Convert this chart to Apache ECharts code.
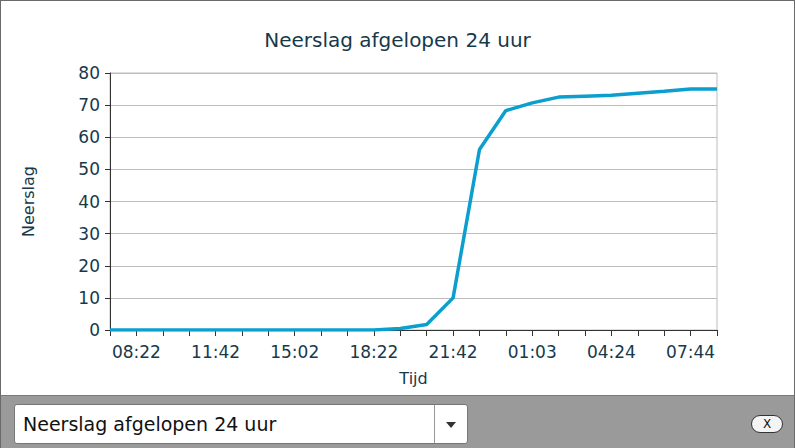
<!DOCTYPE html>
<html><head><meta charset="utf-8">
<script src="https://cdn.jsdelivr.net/npm/echarts@6/dist/echarts.min.js"></script>
<style>
body{margin:0;width:795px;height:448px;overflow:hidden;font-family:"DejaVu Sans",Verdana,sans-serif;}
#wrap{position:absolute;left:0;top:0;width:793px;height:446px;border:1px solid #6a6a6a;background:#fff;}
#chart{position:absolute;left:0;top:0;width:793px;height:394px;}
#bar{position:absolute;left:0;top:394px;width:793px;height:52px;background:#9a9a9a;border-top:1px solid #7a7a7a;}
#sel{position:absolute;left:13px;top:8px;width:452px;height:38px;background:#fff;border:1px solid #777;border-radius:3px;font-size:19px;line-height:38px;color:#111;}
#sel span{position:absolute;left:8px;}
#arrow{position:absolute;right:0;top:0;width:32px;height:38px;border-left:1px solid #999;}
#arrow:after{content:"";position:absolute;left:11px;top:17px;border-left:5px solid transparent;border-right:5px solid transparent;border-top:6px solid #333;}
#x{position:absolute;left:750px;top:19px;width:30px;height:16px;border:1px solid #333;border-radius:9px;background:#f4f4f4;font-size:12px;line-height:16px;text-align:center;color:#111;}
</style></head>
<body>
<div id="wrap">
<div id="chart"></div>
<div id="bar"><div id="sel"><span>Neerslag afgelopen 24 uur</span><div id="arrow"></div></div><div id="x">X</div></div>
</div>
<script>
var times = ['07:15','08:22','09:28','10:35','11:42','12:48','13:55','15:02','16:08','17:15','18:22','19:28',
  '20:35','21:42','22:49','23:56','01:03','02:10','03:17','04:24','05:30','06:37','07:44','08:50'];
var neerslag = [0,0,0,0,0,0,0,0,0,0,0,0.5,1.7,10,56.2,68.3,70.7,72.5,72.8,73.1,73.7,74.3,75,75];
var ink = '#17394a';

var chart = echarts.init(document.getElementById('chart'), null, { renderer: 'svg' });
chart.setOption({
  animation: false,
  textStyle: { fontFamily: 'DejaVu Sans' },
  title: { text: 'Neerslag afgelopen 24 uur', left: 'center', top: 24,
    textStyle: { color: ink, fontSize: 20, fontWeight: 'normal' } },
  grid: { left: 109, right: 77, top: 72, bottom: 65, show: true, borderColor: '#bdbdbd', borderWidth: 1 },
  xAxis: {
    type: 'category', data: times, boundaryGap: false,
    name: 'Tijd', nameLocation: 'middle', nameGap: 40,
    nameTextStyle: { color: ink, fontSize: 16 },
    axisLine: { lineStyle: { color: '#333' } },
    axisTick: { interval: 0, length: 6, lineStyle: { color: '#333' } },
    axisLabel: { interval: function (i) { return i % 3 === 1; }, color: ink, fontSize: 17, margin: 13 }
  },
  yAxis: {
    type: 'value', min: 0, max: 80, interval: 10,
    name: 'Neerslag', nameLocation: 'middle', nameGap: 74,
    nameTextStyle: { color: ink, fontSize: 16 },
    axisLine: { show: true, lineStyle: { color: '#333' } },
    axisTick: { show: true, length: 5, lineStyle: { color: '#333' } },
    axisLabel: { color: ink, fontSize: 17, margin: 10 },
    splitLine: { lineStyle: { color: '#bdbdbd' } }
  },
  series: [{
    type: 'line', data: neerslag, symbol: 'none',
    lineStyle: { color: '#0a9fcf', width: 3.5 }
  }]
});
</script>
</body></html>
